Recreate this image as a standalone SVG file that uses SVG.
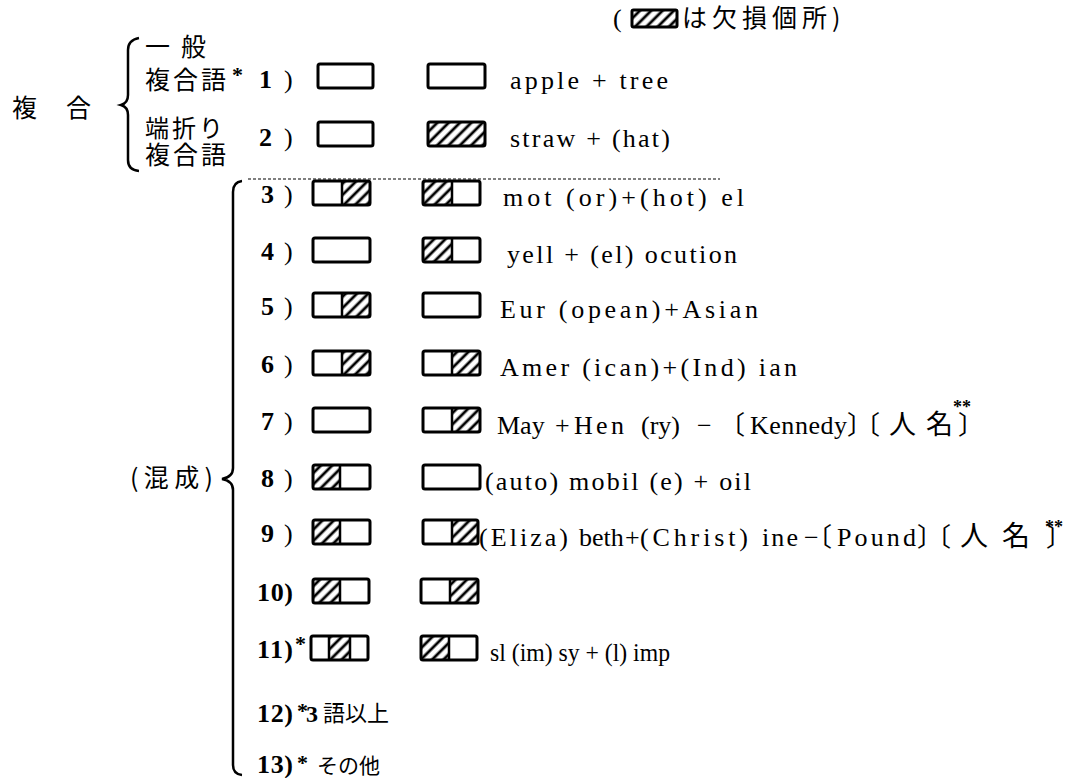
<svg xmlns="http://www.w3.org/2000/svg" width="1077" height="778" viewBox="0 0 1077 778">
<defs>
<pattern id="hatch" width="8" height="8" patternUnits="userSpaceOnUse" patternTransform="rotate(45)"><rect width="8" height="8" fill="#fff"/><line x1="4" y1="0" x2="4" y2="8" stroke="#000" stroke-width="2.8"/></pattern>
</defs>
<style>
.bx{fill:none;stroke:#000;stroke-width:3;}
.dv{stroke:#000;stroke-width:2.5;}
.h{fill:url(#hatch);}
.t{font-family:"Liberation Serif","Noto Sans CJK JP",serif;font-size:26px;fill:#000;}
.c{font-family:"Noto Sans CJK JP",sans-serif;font-size:26px;fill:#000;}
.n{font-family:"Liberation Serif",serif;font-size:26px;font-weight:bold;fill:#000;}
.p{font-family:"Liberation Serif",serif;font-size:26px;fill:#000;}
.j{font-family:"Noto Sans CJK JP",sans-serif;font-size:25px;fill:#000;}
.s{font-family:"Liberation Serif",serif;font-weight:bold;font-size:22px;fill:#000;}
.br{fill:none;stroke:#000;stroke-width:2.5;}
.dash{fill:none;stroke:#000;stroke-width:1.2;stroke-dasharray:3 2;}
</style>
<rect width="1077" height="778" fill="#fff"/>

<g id="header">
<text class="p" x="613" y="27">(</text>
<rect class="h" x="632" y="10" width="45" height="17"/>
<rect class="bx" x="632" y="10" width="45" height="17" rx="1.5"/>
<text class="j" x="682" y="27" style="letter-spacing:5px">は欠損個所)</text>
</g>

<g id="connectors">
<path class="br" d="M139,38 Q128,40 128,50 L128,95 Q128,103 121,105 Q128,107 128,115 L128,160 Q128,170 139,171"/>
<path class="br" d="M242,181 Q233,182 233,192 L233,468 Q233,477 222,479 Q233,481 233,490 L233,765 Q233,774 242,775"/>
<line class="dash" x1="248" y1="179" x2="720" y2="179"/>
</g>

<g id="label-fukugo">
<text class="j" x="12" y="117">複</text>
<text class="j" x="66" y="117">合</text>
</g>
<g id="label-ippan">
<text class="j" x="145" y="56">一</text>
<text class="j" x="181" y="56">般</text>
<text class="j" x="145" y="89" style="letter-spacing:3px">複合語</text>
<text class="s" x="232" y="82">*</text>
</g>
<g id="label-hashori">
<text class="j" x="145" y="137" style="letter-spacing:3px;font-size:24px">端折り</text>
<text class="j" x="145" y="164" style="letter-spacing:3px">複合語</text>
</g>
<g id="label-konsei">
<text class="j" x="130" y="487" textLength="83" lengthAdjust="spacing">(混成)</text>
</g>

<g id="row1">
<text class="n" x="259" y="88">1</text><text class="p" x="284" y="88">)</text>
<rect class="bx" x="318" y="64" width="55" height="24" rx="2"/>
<rect class="bx" x="428" y="64" width="57" height="24" rx="2"/>
<text class="t" x="510" y="89" textLength="158" lengthAdjust="spacing">apple + tree</text>
</g>

<g id="row2">
<text class="n" x="259" y="146">2</text><text class="p" x="284" y="146">)</text>
<rect class="bx" x="318" y="122" width="55" height="24" rx="2"/>
<rect class="h" x="428" y="122" width="57" height="24"/>
<rect class="bx" x="428" y="122" width="57" height="24" rx="2"/>
<text class="t" x="510" y="147" textLength="160" lengthAdjust="spacing">straw + (hat)</text>
</g>

<g id="row3">
<text class="n" x="261" y="203">3</text><text class="p" x="284" y="203">)</text>
<rect class="h" x="342" y="181" width="28" height="24"/>
<rect class="bx" x="313" y="181" width="57" height="24" rx="2"/><line class="dv" x1="342" y1="181" x2="342" y2="205"/>
<rect class="h" x="423" y="181" width="29" height="24"/>
<rect class="bx" x="423" y="181" width="57" height="24" rx="2"/><line class="dv" x1="452" y1="181" x2="452" y2="205"/>
<text class="t" x="503" y="206" textLength="241" lengthAdjust="spacing">mot (or)+(hot) el</text>
</g>

<g id="row4">
<text class="n" x="261" y="260">4</text><text class="p" x="284" y="260">)</text>
<rect class="bx" x="313" y="238" width="57" height="24" rx="2"/>
<rect class="h" x="423" y="238" width="29" height="24"/>
<rect class="bx" x="423" y="238" width="57" height="24" rx="2"/><line class="dv" x1="452" y1="238" x2="452" y2="262"/>
<text class="t" x="507" y="263" textLength="230" lengthAdjust="spacing">yell + (el) ocution</text>
</g>

<g id="row5">
<text class="n" x="261" y="315">5</text><text class="p" x="284" y="315">)</text>
<rect class="h" x="342" y="293" width="28" height="24"/>
<rect class="bx" x="313" y="293" width="57" height="24" rx="2"/><line class="dv" x1="342" y1="293" x2="342" y2="317"/>
<rect class="bx" x="423" y="293" width="57" height="24" rx="2"/>
<text class="t" x="500" y="318" textLength="258" lengthAdjust="spacing">Eur (opean)+Asian</text>
</g>

<g id="row6">
<text class="n" x="261" y="373">6</text><text class="p" x="284" y="373">)</text>
<rect class="h" x="342" y="351" width="28" height="24"/>
<rect class="bx" x="313" y="351" width="57" height="24" rx="2"/><line class="dv" x1="342" y1="351" x2="342" y2="375"/>
<rect class="h" x="452" y="351" width="28" height="24"/>
<rect class="bx" x="423" y="351" width="57" height="24" rx="2"/><line class="dv" x1="452" y1="351" x2="452" y2="375"/>
<text class="t" x="500" y="376" textLength="297" lengthAdjust="spacing">Amer (ican)+(Ind) ian</text>
</g>

<g id="row7">
<text class="n" x="261" y="430">7</text><text class="p" x="284" y="430">)</text>
<rect class="bx" x="313" y="408" width="57" height="24" rx="2"/>
<rect class="h" x="452" y="408" width="28" height="24"/>
<rect class="bx" x="423" y="408" width="57" height="24" rx="2"/><line class="dv" x1="452" y1="408" x2="452" y2="432"/>
<text class="t" y="434"><tspan x="497">May</tspan><tspan x="555">+</tspan><tspan x="574" textLength="50" lengthAdjust="spacing">Hen</tspan><tspan x="641">(ry)</tspan><tspan x="697">−</tspan></text>
<text class="c" x="719" y="434">〔</text>
<text class="t" x="750" y="434" textLength="97" lengthAdjust="spacing">Kennedy</text>
<text class="c" x="847" y="434">〕</text>
<text class="c" x="854" y="434">〔</text>
<text class="c" x="889" y="434" style="font-size:27px">人</text>
<text class="c" x="926" y="434" style="font-size:27px">名</text>
<text class="c" x="958" y="434">〕</text>
<text class="s" x="953" y="413" style="font-size:18px">**</text>
</g>

<g id="row8">
<text class="n" x="261" y="487">8</text><text class="p" x="284" y="487">)</text>
<rect class="h" x="313" y="465" width="27" height="24"/>
<rect class="bx" x="313" y="465" width="57" height="24" rx="2"/><line class="dv" x1="340" y1="465" x2="340" y2="489"/>
<rect class="bx" x="423" y="465" width="57" height="24" rx="2"/>
<text class="t" x="485" y="490" textLength="266" lengthAdjust="spacing">(auto) mobil (e) + oil</text>
</g>

<g id="row9">
<text class="n" x="261" y="542">9</text><text class="p" x="284" y="542">)</text>
<rect class="h" x="313" y="520" width="27" height="24"/>
<rect class="bx" x="313" y="520" width="57" height="24" rx="2"/><line class="dv" x1="340" y1="520" x2="340" y2="544"/>
<rect class="h" x="452" y="520" width="26" height="24"/>
<rect class="bx" x="423" y="520" width="55" height="24" rx="2"/><line class="dv" x1="452" y1="520" x2="452" y2="544"/>
<text class="t" y="546"><tspan x="479" textLength="89" lengthAdjust="spacing">(Eliza)</tspan><tspan x="579">beth</tspan><tspan x="625">+</tspan><tspan x="640" textLength="108" lengthAdjust="spacing">(Christ)</tspan><tspan x="762" textLength="36" lengthAdjust="spacing">ine</tspan><tspan x="804">−</tspan></text>
<text class="c" x="806" y="546">〔</text>
<text class="t" x="837" y="546" textLength="79" lengthAdjust="spacing">Pound</text>
<text class="c" x="917" y="546">〕</text>
<text class="c" x="925" y="546">〔</text>
<text class="c" x="960" y="546" style="font-size:28px">人</text>
<text class="c" x="1002" y="546" style="font-size:28px">名</text>
<text class="c" x="1046" y="546">〕</text>
<text class="s" x="1045" y="533" style="font-size:18px">**</text>
</g>

<g id="row10">
<text class="n" x="257" y="601" textLength="36" lengthAdjust="spacing">10)</text>
<rect class="h" x="313" y="579" width="27" height="24"/>
<rect class="bx" x="313" y="579" width="56" height="24" rx="2"/><line class="dv" x1="340" y1="579" x2="340" y2="603"/>
<rect class="h" x="450" y="579" width="28" height="24"/>
<rect class="bx" x="421" y="579" width="57" height="24" rx="2"/><line class="dv" x1="450" y1="579" x2="450" y2="603"/>
</g>

<g id="row11">
<text class="n" x="257" y="658" textLength="36" lengthAdjust="spacing">11)</text>
<text class="s" x="295" y="651">*</text>
<rect class="h" x="329" y="636" width="21" height="24"/>
<rect class="bx" x="311" y="636" width="57" height="24" rx="2"/>
<line class="dv" x1="329" y1="636" x2="329" y2="660"/><line class="dv" x1="350" y1="636" x2="350" y2="660"/>
<rect class="h" x="421" y="636" width="28" height="24"/>
<rect class="bx" x="421" y="636" width="56" height="24" rx="2"/><line class="dv" x1="449" y1="636" x2="449" y2="660"/>
<text class="t" x="490" y="661" textLength="180" lengthAdjust="spacingAndGlyphs">sl (im) sy + (l) imp</text>
</g>

<g id="row12">
<text class="n" x="257" y="722" textLength="36" lengthAdjust="spacing">12)</text>
<text class="s" x="297" y="718">*</text>
<text class="n" x="306" y="722" style="font-size:24px">3</text>
<text class="j" x="323" y="721" style="font-size:22px">語以上</text>
</g>

<g id="row13">
<text class="n" x="257" y="773" textLength="36" lengthAdjust="spacing">13)</text>
<text class="s" x="297" y="770">*</text>
<text class="j" x="317" y="773" style="font-size:21px">その他</text>
</g>
</svg>
